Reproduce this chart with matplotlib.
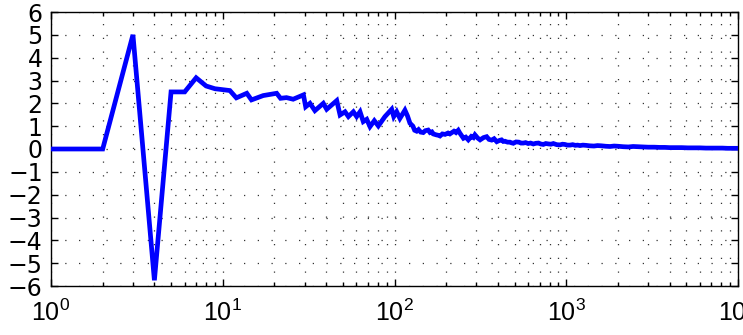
import numpy as np
import matplotlib
matplotlib.use("Agg")
import matplotlib.pyplot as plt
from matplotlib.ticker import LogLocator, NullFormatter, FixedLocator

plt.rcParams["font.family"] = ["Liberation Sans", "DejaVu Sans"]
plt.rcParams["mathtext.fontset"] = "custom"
plt.rcParams["mathtext.rm"] = "Liberation Sans"
plt.rcParams["mathtext.it"] = "Liberation Sans:italic"

# running value vs sample count
n_vals = [1, 2, 3, 4, 5, 6, 7, 8, 9, 10, 11, 12, 13.8, 14.7, 17.2, 20.6, 21.7,
          23.5, 25.7, 29.5, 30.4, 32.2, 34.4, 38.5, 40.3, 46.1, 48.2, 51.5,
          53.9, 57.6, 60.2, 63, 65.8, 68.9, 72, 76.3, 80.5, 88, 96.3, 99, 103,
          107.5, 115, 119, 123, 128, 131, 134.6, 138, 142, 147, 151, 157, 161,
          165, 168, 175, 180, 184, 190, 197, 205, 210, 215, 222, 228, 235, 240,
          245, 252, 260, 269, 280, 288, 294, 305, 315, 330, 344, 355, 368, 380,
          394, 410, 420, 430, 440, 455, 470, 480, 492, 510, 530, 545, 562, 580,
          600, 620, 643, 665, 690, 710, 735, 760, 790, 815, 841, 880, 920, 950,
          980, 1015, 1052, 1090, 1130, 1165, 1202, 1250, 1300, 1370, 1450,
          1520, 1600, 1700, 1800, 1900, 2000, 2150, 2300, 2450, 2600, 2800,
          3000, 3250, 3500, 3750, 4000, 4350, 4700, 5100, 5500, 6000, 6500,
          7000, 7500, 8100, 8700, 9300, 10000]
est_vals = [0, 0, 5.0, -5.75, 2.5, 2.5, 3.12, 2.76, 2.64, 2.6, 2.56, 2.24, 2.44,
            2.15, 2.34, 2.44, 2.22, 2.25, 2.18, 2.37, 1.85, 2.0, 1.68, 2.0,
            1.74, 2.12, 1.49, 1.63, 1.42, 1.63, 1.42, 1.63, 1.2, 1.3, 0.98,
            1.24, 1.01, 1.42, 1.74, 1.42, 1.63, 1.34, 1.70, 1.45, 1.13, 1.00,
            0.82, 0.78, 0.85, 0.74, 0.72, 0.80, 0.83, 0.72, 0.75, 0.66, 0.62,
            0.60, 0.57, 0.66, 0.64, 0.70, 0.66, 0.71, 0.78, 0.72, 0.82, 0.70,
            0.60, 0.47, 0.52, 0.40, 0.55, 0.50, 0.62, 0.48, 0.40, 0.50, 0.54,
            0.42, 0.39, 0.45, 0.32, 0.38, 0.40, 0.33, 0.34, 0.30, 0.30, 0.27,
            0.25, 0.31, 0.30, 0.26, 0.26, 0.28, 0.24, 0.26, 0.22, 0.25, 0.26,
            0.22, 0.20, 0.24, 0.22, 0.21, 0.24, 0.19, 0.18, 0.21, 0.20, 0.17,
            0.17, 0.19, 0.16, 0.17, 0.15, 0.17, 0.16, 0.14, 0.13, 0.15, 0.14,
            0.12, 0.11, 0.13, 0.12, 0.10, 0.09, 0.11, 0.10, 0.09, 0.08, 0.08,
            0.07, 0.07, 0.06, 0.06, 0.06, 0.05, 0.05, 0.05, 0.04, 0.04, 0.04,
            0.04, 0.03, 0.03, 0.03]

y_ticks = list(range(-6, 7))
x_ticks = [1, 10, 100, 1000, 10000]

fig = plt.figure(figsize=(7.43, 3.35), dpi=100)
ax = fig.add_axes([51 / 743, 49 / 335, 687 / 743, 274 / 335])

ax.plot(n_vals, est_vals, color="#0000ff", lw=3.4,
        solid_joinstyle="miter", zorder=3)

ax.set_xscale("log")
ax.set_xlim(1, 10000)
ax.set_ylim(-6, 6)
ax.yaxis.set_major_locator(FixedLocator(y_ticks))
ax.xaxis.set_major_locator(FixedLocator(x_ticks))
ax.xaxis.set_minor_locator(LogLocator(base=10, subs=np.arange(2, 10)))
ax.xaxis.set_minor_formatter(NullFormatter())

# matlab-like sparse dotted grid
dots = (0, (1, 10))
ax.grid(True, which="major", axis="both", color="0.2", lw=0.9, linestyle=dots)
ax.grid(True, which="minor", axis="x", color="0.2", lw=0.9, linestyle=dots)

ax.tick_params(which="both", direction="in", top=True, right=True, width=1.0)
ax.tick_params(which="major", length=5)
ax.tick_params(which="minor", length=3)
ax.tick_params(axis="y", labelsize=17, pad=6)
ax.tick_params(axis="x", labelsize=18, pad=10)
ax.set_yticklabels([str(v).replace("-", "\u2212") for v in y_ticks],
                   family="DejaVu Sans")
for s in ax.spines.values():
    s.set_linewidth(1.0)

fig.savefig("out.png", dpi=100)
